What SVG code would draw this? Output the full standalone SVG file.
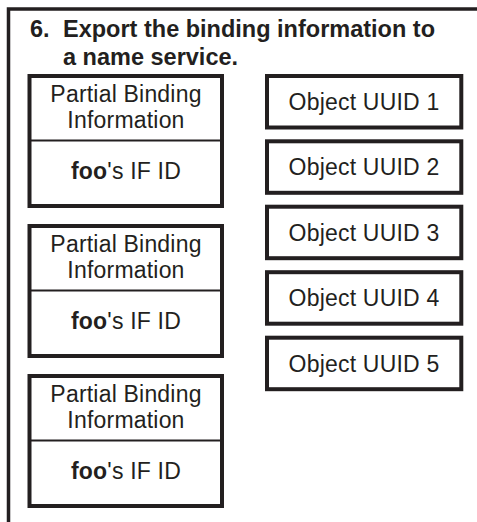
<svg xmlns="http://www.w3.org/2000/svg" width="477" height="522" viewBox="0 0 477 522">
<style>
.frame{fill:none;stroke:#231f20;stroke-width:3.5}
.box{fill:#fff;stroke:#231f20;stroke-width:4}
.div{stroke:#231f20;stroke-width:2}
.t{font-family:"Liberation Sans",Arial,sans-serif;font-size:23px;letter-spacing:0.2px;fill:#231f20;text-anchor:middle}
.title{font-family:"Liberation Sans",Arial,sans-serif;font-size:23.5px;font-weight:bold;fill:#231f20}
.b{font-weight:bold}
</style>
<rect width="477" height="522" fill="#fff"/>
<g id="frame">
<path class="frame" d="M8.5 522 V9 H477"/>
<text class="title" x="30" y="37">6.</text>
<text class="title" x="63" y="37">Export the binding information to</text>
<text class="title" x="63" y="65">a name service.</text>
</g>
<g id="binding1">
<rect class="box" x="29.5" y="76" width="192.5" height="130"/>
<line class="div" x1="29.5" y1="140.5" x2="222" y2="140.5"/>
<text class="t" x="126" y="102">Partial Binding</text>
<text class="t" x="126" y="128">Information</text>
<text class="t" x="126" y="179"><tspan class="b">foo</tspan>'s IF ID</text>
</g>
<g id="binding2">
<rect class="box" x="29.5" y="226" width="192.5" height="130"/>
<line class="div" x1="29.5" y1="290.5" x2="222" y2="290.5"/>
<text class="t" x="126" y="252">Partial Binding</text>
<text class="t" x="126" y="278">Information</text>
<text class="t" x="126" y="329"><tspan class="b">foo</tspan>'s IF ID</text>
</g>
<g id="binding3">
<rect class="box" x="29.5" y="376" width="192.5" height="130"/>
<line class="div" x1="29.5" y1="440.5" x2="222" y2="440.5"/>
<text class="t" x="126" y="402">Partial Binding</text>
<text class="t" x="126" y="428">Information</text>
<text class="t" x="126" y="479"><tspan class="b">foo</tspan>'s IF ID</text>
</g>
<g id="uuid1">
<rect class="box" x="267" y="76" width="194.3" height="51.5"/>
<text class="t" x="364" y="110">Object UUID 1</text>
</g>
<g id="uuid2">
<rect class="box" x="267" y="141.3" width="194.3" height="51.5"/>
<text class="t" x="364" y="175.3">Object UUID 2</text>
</g>
<g id="uuid3">
<rect class="box" x="267" y="206.7" width="194.3" height="51.5"/>
<text class="t" x="364" y="240.7">Object UUID 3</text>
</g>
<g id="uuid4">
<rect class="box" x="267" y="272.2" width="194.3" height="51.5"/>
<text class="t" x="364" y="306.2">Object UUID 4</text>
</g>
<g id="uuid5">
<rect class="box" x="267" y="337.7" width="194.3" height="51.5"/>
<text class="t" x="364" y="371.7">Object UUID 5</text>
</g>
<g id="connectors"></g>
</svg>
